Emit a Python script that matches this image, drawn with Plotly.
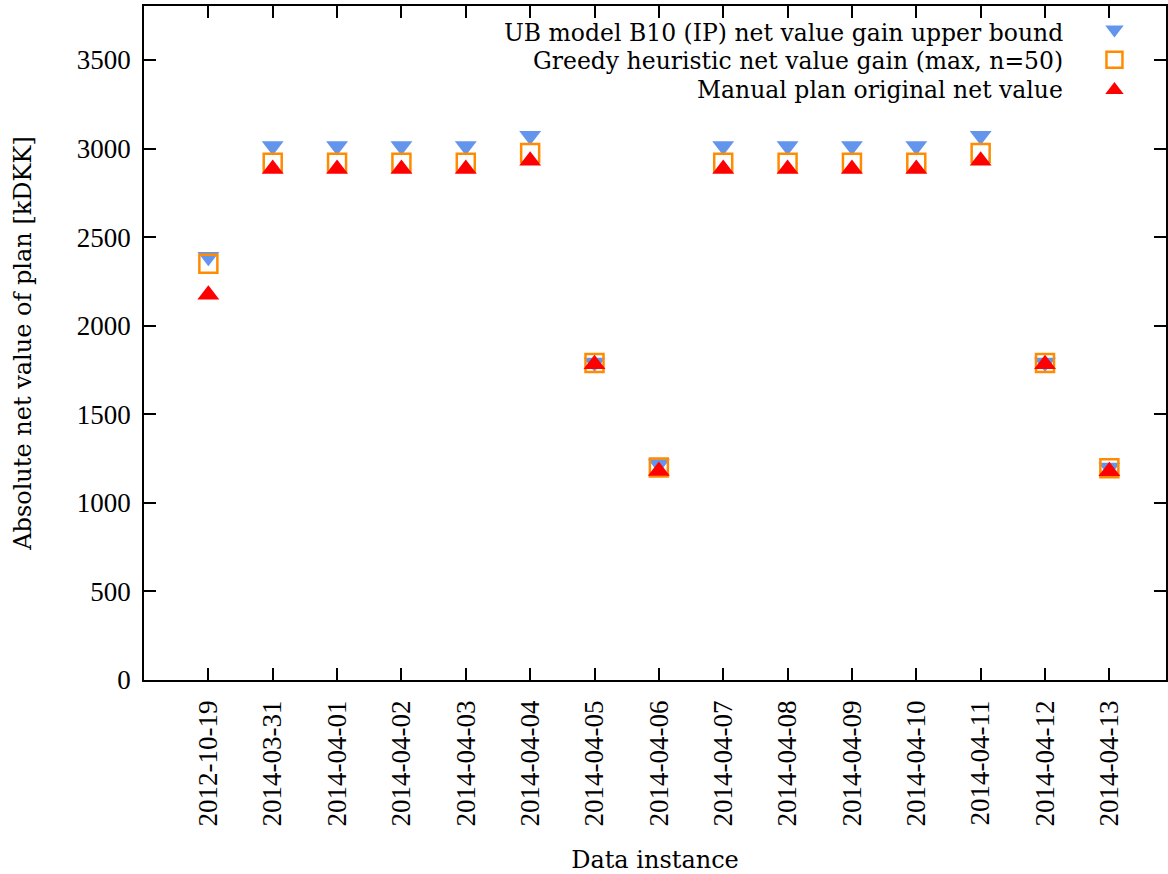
import plotly.graph_objects as go

categories = ["2012-10-19", "2014-03-31", "2014-04-01", "2014-04-02", "2014-04-03",
              "2014-04-04", "2014-04-05", "2014-04-06", "2014-04-07", "2014-04-08",
              "2014-04-09", "2014-04-10", "2014-04-11", "2014-04-12", "2014-04-13"]
ub_values = [2390, 3015, 3015, 3015, 3015, 3072, 1792, 1220, 3015, 3015, 3015, 3015, 3072, 1792, 1200]
greedy_values = [2350, 2920, 2920, 2920, 2920, 2975, 1790, 1200, 2920, 2920, 2920, 2920, 2975, 1790, 1195]
manual_values = [2175, 2885, 2885, 2885, 2885, 2932, 1782, 1180, 2885, 2885, 2885, 2885, 2932, 1782, 1178]
series_names = ["UB model B10 (IP) net value gain upper bound",
                "Greedy heuristic net value gain (max, n=50)",
                "Manual plan original net value"]
y_ticks = [0, 500, 1000, 1500, 2000, 2500, 3000, 3500]

TICKFONT = "Liberation Serif"
TEXTFONT = "DejaVu Serif"
idx = list(range(len(categories)))

styles = [
    dict(symbol="triangle-down", color="#6495ed", size=19, line=dict(width=0)),
    dict(symbol="square-open", color="#ff8c00", size=18, line=dict(width=2.5)),
    dict(symbol="triangle-up", color="#ff0000", size=19, line=dict(width=0)),
]

fig = go.Figure()
for name, vals, st in zip(series_names, [ub_values, greedy_values, manual_values], styles):
    fig.add_trace(go.Scatter(x=idx, y=vals, mode="markers", name=name,
                             marker=st, showlegend=False))
# legend keys (symbols only); the labels are drawn as right-aligned text
for name, st in zip(series_names, styles):
    fig.add_trace(go.Scatter(x=[None], y=[None], mode="markers", name="",
                             marker=st, showlegend=True, hoverinfo="skip"))

legend_y = [0.960, 0.918, 0.876]
for name, ly in zip(series_names, legend_y):
    fig.add_annotation(text=name, xref="paper", yref="paper", x=0.901, y=ly,
                       xanchor="right", yanchor="middle", showarrow=False,
                       font=dict(family=TEXTFONT, size=23.5, color="black"))

fig.update_layout(
    width=1168, height=874,
    margin=dict(l=144, r=0, t=6, b=194),
    paper_bgcolor="white", plot_bgcolor="white",
    font=dict(family=TICKFONT, size=26, color="black"),
    legend=dict(x=0.93, y=0.995, xanchor="left", yanchor="top",
                bgcolor="rgba(0,0,0,0)", font=dict(size=21),
                tracegroupgap=0, itemwidth=30),
    xaxis=dict(range=[-1, 14.88], tickmode="array", tickvals=idx, ticktext=categories,
               tickangle=-90, ticks="inside", ticklen=12, tickwidth=1.5, tickcolor="black",
               showline=True, linecolor="black", linewidth=1.5, mirror="ticks",
               showgrid=False, zeroline=False, ticklabelstandoff=8,
               tickfont=dict(family=TICKFONT, size=27),
               title=dict(text="Data instance", font=dict(family=TEXTFONT, size=24), standoff=28)),
    yaxis=dict(range=[0, 3805], tickmode="array", tickvals=y_ticks,
               ticks="inside", ticklen=12, tickwidth=1.5, tickcolor="black",
               showline=True, linecolor="black", linewidth=1.5, mirror="ticks",
               showgrid=False, zeroline=False, ticklabelstandoff=6,
               tickfont=dict(family=TICKFONT, size=27),
               title=dict(text="Absolute net value of plan [kDKK]",
                          font=dict(family=TEXTFONT, size=24), standoff=38)),
)

fig.write_html("out.html")
